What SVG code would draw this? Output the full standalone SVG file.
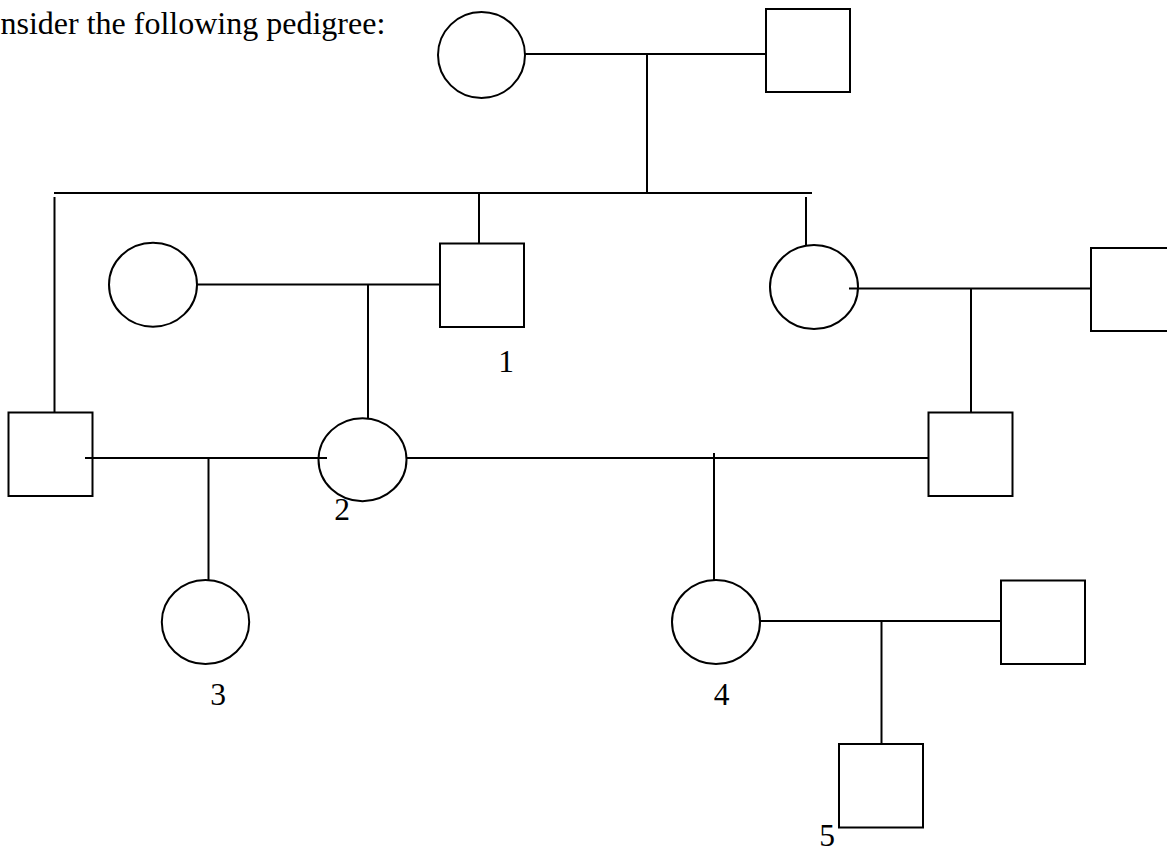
<svg xmlns="http://www.w3.org/2000/svg" width="1167" height="853" viewBox="0 0 1167 853">
<style>
.s{fill:none;stroke:#000;stroke-width:2}
.c line{stroke:#000;stroke-width:2}
.t{font-family:"Liberation Serif","Times New Roman",serif;font-size:32px;fill:#000}
.n{font-family:"Liberation Serif","Times New Roman",serif;font-size:31.5px;fill:#000;text-anchor:middle}
</style>
<rect width="1167" height="853" fill="#fff"/>
<text class="t" x="0.5" y="34">nsider the following pedigree:</text>
<g id="connectors" class="c">
<line x1="525" y1="54" x2="766" y2="54"/>
<line x1="647" y1="54" x2="647" y2="192"/>
<line x1="54" y1="193" x2="812" y2="193"/>
<line x1="54.5" y1="197" x2="54.5" y2="412"/>
<line x1="479" y1="193" x2="479" y2="243"/>
<line x1="806" y1="197" x2="806" y2="246"/>
<line x1="197" y1="284.5" x2="440" y2="284.5"/>
<line x1="368" y1="284.5" x2="368" y2="418"/>
<line x1="849" y1="288.5" x2="1091" y2="288.5"/>
<line x1="971" y1="288.5" x2="971" y2="412"/>
<line x1="85" y1="458" x2="327" y2="458"/>
<line x1="208.5" y1="458" x2="208.5" y2="580"/>
<line x1="406.5" y1="458" x2="928" y2="458"/>
<line x1="714" y1="453" x2="714" y2="580"/>
<line x1="760" y1="621" x2="1001" y2="621"/>
<line x1="881.5" y1="621" x2="881.5" y2="744"/>
</g>
<g id="gp-mother"><ellipse class="s" cx="481.5" cy="55" rx="43.5" ry="43"/></g>
<g id="gp-father"><rect class="s" x="766" y="9" width="84" height="83"/></g>
<g id="p-left-spouse"><ellipse class="s" cx="153" cy="284.7" rx="44" ry="42"/></g>
<g id="p1"><rect class="s" x="440" y="243.5" width="84" height="83.5"/><text class="n" x="506" y="371.5">1</text></g>
<g id="p-right-daughter"><ellipse class="s" cx="814" cy="287" rx="44" ry="42"/></g>
<g id="p-right-spouse"><rect class="s" x="1091" y="248" width="84" height="83"/></g>
<g id="g3-left-son"><rect class="s" x="8.5" y="412.5" width="84" height="83.5"/></g>
<g id="p2"><ellipse class="s" cx="362.5" cy="459.7" rx="44" ry="41.5"/><text class="n" x="342" y="520">2</text></g>
<g id="g3-right-son"><rect class="s" x="928.5" y="412.5" width="84" height="83.5"/></g>
<g id="p3"><ellipse class="s" cx="205.5" cy="622" rx="43.7" ry="42"/><text class="n" x="218" y="705">3</text></g>
<g id="p4"><ellipse class="s" cx="716" cy="622" rx="44" ry="42"/><text class="n" x="721.5" y="705">4</text></g>
<g id="p4-spouse"><rect class="s" x="1001" y="580.5" width="84" height="83.5"/></g>
<g id="p5"><rect class="s" x="839" y="744" width="84" height="83.5"/><text class="n" x="827" y="845.5">5</text></g>
</svg>
